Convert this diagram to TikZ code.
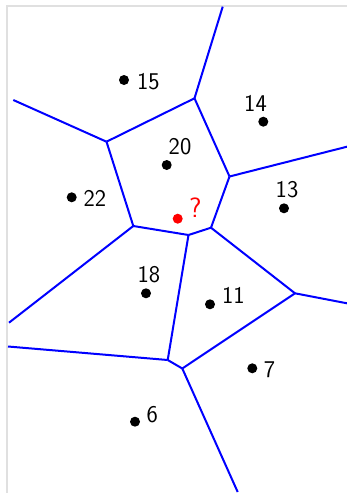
\documentclass[tikz,border=0pt]{standalone}
\begin{document}
\begin{tikzpicture}[x=1pt,y=-1pt,
  edge/.style={draw=blue,line width=2pt},
  site/.style={circle,fill=black,inner sep=0pt,minimum size=10pt},
  qsite/.style={circle,fill=red,inner sep=0pt,minimum size=10pt},
  lab/.style={inner sep=0pt,font=\fontsize{24}{28}\selectfont\sffamily},
  frame/.style={draw=black!12,line width=2pt}]
\useasboundingbox (0,0) rectangle (347,493);
% frame
\coordinate (f1) at (7,493);
\coordinate (f2) at (7,5.5);
\coordinate (f3) at (347,5.5);
\draw[frame] (f1) -- (f2) -- (f3);
% Voronoi vertices
\coordinate (A) at (194.5,98.3);
\coordinate (B) at (106.5,141.7);
\coordinate (C) at (229.5,176.5);
\coordinate (D) at (133.3,226);
\coordinate (E) at (188.5,235);
\coordinate (F) at (211,227.7);
\coordinate (G) at (295,293.3);
\coordinate (H) at (167.7,360);
\coordinate (I) at (182.3,368.5);
% free ends
\coordinate (eA) at (222.7,6.7);
\coordinate (eB) at (13.3,100);
\coordinate (eC) at (347,146.7);
\coordinate (eD) at (9,322.7);
\coordinate (eG) at (347,303.3);
\coordinate (eH) at (8,346.5);
\coordinate (eI) at (237.7,492);
% edges
\draw[edge] (eA) -- (A);
\draw[edge] (A) -- (B);
\draw[edge] (A) -- (C);
\draw[edge] (eB) -- (B);
\draw[edge] (B) -- (D);
\draw[edge] (C) -- (eC);
\draw[edge] (C) -- (F);
\draw[edge] (D) -- (eD);
\draw[edge] (D) -- (E);
\draw[edge] (E) -- (F);
\draw[edge] (E) -- (H);
\draw[edge] (F) -- (G);
\draw[edge] (G) -- (eG);
\draw[edge] (G) -- (I);
\draw[edge] (H) -- (I);
\draw[edge] (H) -- (eH);
\draw[edge] (I) -- (eI);
% sites
\node[site] (p15) at (124,80) {};
\node[lab] (l15) at (148.3,82) {15};
\node[site] (p14) at (263.3,121.7) {};
\node[lab] (l14) at (255.5,103) {14};
\node[site] (p20) at (166.7,165) {};
\node[lab] (l20) at (180,146.7) {20};
\node[qsite] (pq) at (177.7,218.7) {};
\node[lab,text=red,font=\fontsize{28}{32}\selectfont\sffamily] (lq) at (195.3,208) {?};
\node[site] (p13) at (284,208.3) {};
\node[lab] (l13) at (287,189.7) {13};
\node[site] (p22) at (71.7,197.3) {};
\node[lab] (l22) at (94.8,198.7) {22};
\node[site] (p18) at (146,293.3) {};
\node[lab] (l18) at (148.8,274.5) {18};
\node[site] (p11) at (210,304.3) {};
\node[lab] (l11) at (233.3,295.3) {11};
\node[site] (p7) at (252.3,368.3) {};
\node[lab] (l7) at (269.5,370) {7};
\node[site] (p6) at (135,421.7) {};
\node[lab] (l6) at (152.2,414.3) {6};
\end{tikzpicture}
\end{document}
